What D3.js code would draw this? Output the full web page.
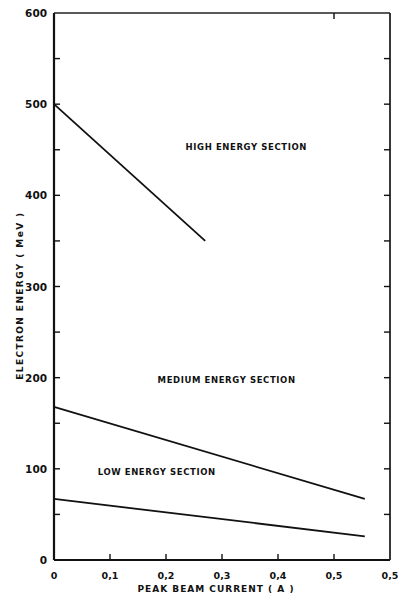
<!DOCTYPE html>
<html>
<head>
<meta charset="utf-8">
<script src="https://cdn.jsdelivr.net/npm/d3@7"></script>
<style>
  body { margin: 0; background: #fff; }
  text { font-family: "DejaVu Sans", sans-serif; fill: #111; }
</style>
</head>
<body>
<div id="chart"></div>
<script>
// energy sections: [current (A), energy (MeV)]
const highSection = [[0, 500], [0.27, 350]];
const mediumSection = [[0, 168], [0.555, 67]];
const lowSection = [[0, 67], [0.555, 26]];

const xTicks = [0, 0.1, 0.2, 0.3, 0.4, 0.5, 0.6];
const xTickLabels = ["0", "0,1", "0,2", "0,3", "0,4", "0,5", "0,5"];
const yTicks = [0, 100, 200, 300, 400, 500, 600];
const yMinorTicks = d3.range(0, 601, 50);

const sectionLabels = [
  { text: "HIGH ENERGY SECTION", x: 0.235, y: 450 },
  { text: "MEDIUM ENERGY SECTION", x: 0.185, y: 194 },
  { text: "LOW ENERGY SECTION", x: 0.078, y: 93 }
];

const width = 400, height = 598;
const margin = { left: 54, right: 10, top: 13, bottom: 38 };

const svg = d3.select("#chart").append("svg")
  .attr("width", width)
  .attr("height", height);

const x = d3.scaleLinear().domain([0, 0.6]).range([margin.left, width - margin.right]);
const y = d3.scaleLinear().domain([0, 600]).range([height - margin.bottom, margin.top]);

// frame
svg.append("line")
  .attr("x1", x(0)).attr("x2", x(0)).attr("y1", y(0)).attr("y2", y(600))
  .attr("stroke", "#111").attr("stroke-width", 2.2);
svg.append("line")
  .attr("x1", x(0)).attr("x2", x(0.6)).attr("y1", y(0)).attr("y2", y(0))
  .attr("stroke", "#111").attr("stroke-width", 2);
svg.append("line")
  .attr("x1", x(0)).attr("x2", x(0.6)).attr("y1", y(600)).attr("y2", y(600))
  .attr("stroke", "#222").attr("stroke-width", 1.6);
svg.append("line")
  .attr("x1", x(0.6)).attr("x2", x(0.6)).attr("y1", y(0)).attr("y2", y(600))
  .attr("stroke", "#222").attr("stroke-width", 1.8);

// inward ticks
const tickLen = 6;
svg.append("g").selectAll("line")
  .data(yMinorTicks.filter(d => d > 0 && d < 600))
  .join("line")
  .attr("x1", x(0)).attr("x2", x(0) + tickLen)
  .attr("y1", d => y(d)).attr("y2", d => y(d))
  .attr("stroke", "#111").attr("stroke-width", 1.4);
svg.append("g").selectAll("line")
  .data(yMinorTicks.filter(d => d > 0 && d < 600))
  .join("line")
  .attr("x1", x(0.6)).attr("x2", x(0.6) - tickLen)
  .attr("y1", d => y(d)).attr("y2", d => y(d))
  .attr("stroke", "#111").attr("stroke-width", 1.4);
svg.append("g").selectAll("line")
  .data(xTicks.filter(d => d > 0 && d < 0.6))
  .join("line")
  .attr("x1", d => x(d)).attr("x2", d => x(d))
  .attr("y1", y(0)).attr("y2", y(0) - tickLen)
  .attr("stroke", "#111").attr("stroke-width", 1.4);
svg.append("line")
  .attr("x1", x(0.5)).attr("x2", x(0.5))
  .attr("y1", y(600)).attr("y2", y(600) + tickLen)
  .attr("stroke", "#111").attr("stroke-width", 1.4);

// tick labels
svg.append("g").selectAll("text")
  .data(yTicks)
  .join("text")
  .attr("x", x(0) - 7)
  .attr("y", d => y(d) + 4)
  .attr("text-anchor", "end")
  .attr("font-size", 10.5)
  .attr("font-weight", "bold")
  .text(d => d);
svg.append("g").selectAll("text")
  .data(xTicks)
  .join("text")
  .attr("x", d => x(d))
  .attr("y", y(0) + 19)
  .attr("text-anchor", "middle")
  .attr("font-size", 9.5)
  .attr("font-weight", "bold")
  .text((d, i) => xTickLabels[i]);

// axis titles
svg.append("text")
  .attr("x", x(0.3) - 6)
  .attr("y", y(0) + 32)
  .attr("text-anchor", "middle")
  .attr("font-size", 9)
  .attr("font-weight", "bold")
  .attr("letter-spacing", 1)
  .text("PEAK BEAM CURRENT  ( A )");
svg.append("text")
  .attr("transform", `translate(23,${y(290)}) rotate(-90)`)
  .attr("text-anchor", "middle")
  .attr("font-size", 9)
  .attr("font-weight", "bold")
  .attr("letter-spacing", 1.4)
  .text("ELECTRON  ENERGY  ( MeV )");

// section lines
const line = d3.line().x(d => x(d[0])).y(d => y(d[1]));
svg.append("g").selectAll("path")
  .data([highSection, mediumSection, lowSection])
  .join("path")
  .attr("d", line)
  .attr("fill", "none")
  .attr("stroke", "#111")
  .attr("stroke-width", 1.8);

// section labels
svg.append("g").selectAll("text")
  .data(sectionLabels)
  .join("text")
  .attr("x", d => x(d.x))
  .attr("y", d => y(d.y))
  .attr("font-size", 8.5)
  .attr("font-weight", "bold")
  .attr("letter-spacing", 0.6)
  .text(d => d.text);
</script>
</body>
</html>
